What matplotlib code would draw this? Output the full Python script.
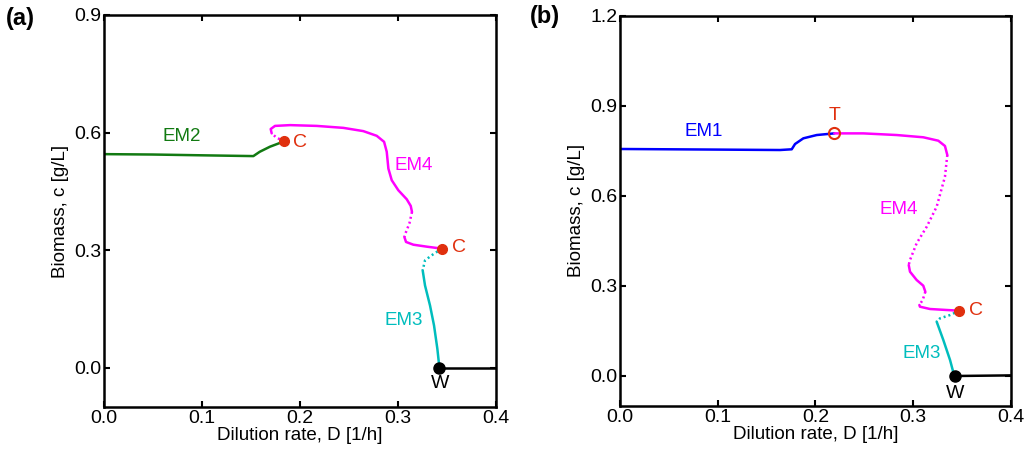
import matplotlib
matplotlib.use("Agg")
import matplotlib.pyplot as plt

plt.rcParams['font.family'] = ['Liberation Sans', 'DejaVu Sans']

# ---------------- Panel (a) data ----------------
a_em2_x = [0.0, 0.05, 0.10, 0.1525, 0.159, 0.1695, 0.178, 0.1841]
a_em2_y = [0.545, 0.544, 0.542, 0.540, 0.551, 0.564, 0.572, 0.578]

a_em4_dot1_x = [0.1841, 0.1763, 0.1712]
a_em4_dot1_y = [0.578, 0.5866, 0.598]
a_em4_sol1_x = [0.1712, 0.1702, 0.1746, 0.190, 0.2172, 0.2444, 0.2648, 0.2785, 0.286,
                0.2887, 0.2904, 0.2938, 0.3005, 0.3091, 0.3132, 0.3145]
a_em4_sol1_y = [0.598, 0.609, 0.617, 0.619, 0.617, 0.612, 0.6037, 0.5917, 0.5764,
                0.551, 0.508, 0.4785, 0.453, 0.430, 0.413, 0.3976]
a_em4_dot2_x = [0.3145, 0.3118, 0.3077, 0.3067]
a_em4_dot2_y = [0.3976, 0.368, 0.342, 0.3337]
a_em4_sol2_x = [0.3067, 0.3084, 0.3159, 0.3296, 0.3449]
a_em4_sol2_y = [0.3337, 0.321, 0.314, 0.309, 0.304]

a_em3_dot_x = [0.3449, 0.3346, 0.3278, 0.3254]
a_em3_dot_y = [0.304, 0.287, 0.274, 0.2486]
a_em3_sol_x = [0.3254, 0.3278, 0.3329, 0.337, 0.3404, 0.3425]
a_em3_sol_y = [0.2486, 0.210, 0.159, 0.108, 0.0485, 0.0]

a_wash_x = [0.3425, 0.4]
a_wash_y = [0.0, 0.0]

a_c_x = [0.1841, 0.3449]
a_c_y = [0.578, 0.304]
a_w_x = [0.3425]
a_w_y = [0.0]

# ---------------- Panel (b) data ----------------
b_em1_x = [0.0, 0.05, 0.10, 0.1638, 0.1758, 0.1792, 0.1877, 0.2014, 0.2194]
b_em1_y = [0.756, 0.755, 0.754, 0.7526, 0.755, 0.7726, 0.7915, 0.8025, 0.808]

b_em4_sol1_x = [0.2194, 0.2491, 0.2833, 0.3105, 0.3259, 0.3327, 0.3351]
b_em4_sol1_y = [0.808, 0.808, 0.8025, 0.795, 0.7836, 0.766, 0.736]
b_em4_dot1_x = [0.3351, 0.3327, 0.3242, 0.314, 0.3037, 0.2969, 0.2956]
b_em4_dot1_y = [0.736, 0.6637, 0.5638, 0.497, 0.442, 0.3863, 0.3696]
b_em4_sol2_x = [0.2956, 0.2969, 0.3037, 0.3105, 0.3126]
b_em4_sol2_y = [0.3696, 0.3473, 0.3197, 0.3007, 0.2807]
b_em4_dot2_x = [0.3126, 0.3099, 0.3065]
b_em4_dot2_y = [0.2807, 0.253, 0.2364]
b_em4_sol3_x = [0.3065, 0.3071, 0.3174, 0.3345, 0.3474]
b_em4_sol3_y = [0.2364, 0.2308, 0.2231, 0.2198, 0.2175]

b_em3_dot_x = [0.3474, 0.3379, 0.3276, 0.3242]
b_em3_dot_y = [0.2175, 0.203, 0.192, 0.181]
b_em3_sol_x = [0.3242, 0.331, 0.3379, 0.342, 0.343]
b_em3_sol_y = [0.181, 0.120, 0.0533, 0.0033, 0.0]

b_wash_x = [0.343, 0.4]
b_wash_y = [0.0, 0.002]

b_t_x = [0.2194]
b_t_y = [0.808]
b_c_x = [0.3474]
b_c_y = [0.2175]
b_w_x = [0.343]
b_w_y = [0.0]

x_ticks = [0.0, 0.1, 0.2, 0.3, 0.4]
a_y_ticks = [0.0, 0.3, 0.6, 0.9]
b_y_ticks = [0.0, 0.3, 0.6, 0.9, 1.2]

GREEN = '#127a12'
MAGENTA = '#ff00ff'
CYAN = '#00bdbd'
BLUE = '#0000ff'
RED = '#e0300e'
LW = 1.8
DOT = (0, (0.8, 1.2))
TICK_FS = 14
LABEL_FS = 13.5
ANN_FS = 13.5

fig = plt.figure(figsize=(10.24, 4.53), dpi=100)
axa = fig.add_axes([0.1016, 0.1015, 0.3825, 0.8655])
axb = fig.add_axes([0.6055, 0.1037, 0.3815, 0.8617])


def line(ax, x, y, color, dotted=False):
    kw = dict(color=color, lw=LW, solid_capstyle='round', solid_joinstyle='round')
    if dotted:
        kw['ls'] = DOT
    ax.plot(x, y, **kw)


def style(ax, yticks, ylim):
    ax.set_xlim(0.0, 0.4)
    ax.set_ylim(*ylim)
    ax.set_xticks(x_ticks)
    ax.set_xticklabels([f"{t:.1f}" for t in x_ticks])
    ax.set_yticks(yticks)
    ax.set_yticklabels([f"{t:.1f}" for t in yticks])
    ax.tick_params(direction='in', top=True, right=True, length=4, width=1.5,
                   labelsize=TICK_FS, pad=2)
    for s in ax.spines.values():
        s.set_linewidth(1.8)
    ax.set_xlabel("Dilution rate, D [1/h]", fontsize=LABEL_FS, labelpad=0)
    ax.set_ylabel("Biomass, c [g/L]", fontsize=LABEL_FS, labelpad=4)


# Panel (a)
line(axa, a_em2_x, a_em2_y, GREEN)
line(axa, a_em4_dot1_x, a_em4_dot1_y, MAGENTA, True)
line(axa, a_em4_sol1_x, a_em4_sol1_y, MAGENTA)
line(axa, a_em4_dot2_x, a_em4_dot2_y, MAGENTA, True)
line(axa, a_em4_sol2_x, a_em4_sol2_y, MAGENTA)
line(axa, a_em3_dot_x, a_em3_dot_y, CYAN, True)
line(axa, a_em3_sol_x, a_em3_sol_y, CYAN)
line(axa, a_wash_x, a_wash_y, 'black')
axa.plot(a_c_x, a_c_y, 'o', color=RED, ms=7, zorder=5)
axa.plot(a_w_x, a_w_y, 'o', color='black', ms=8, zorder=5)
axa.text(0.0793, 0.591, "EM2", color=GREEN, fontsize=ANN_FS, ha='center', va='center')
axa.text(0.3160, 0.517, "EM4", color=MAGENTA, fontsize=ANN_FS, ha='center', va='center')
axa.text(0.3057, 0.121, "EM3", color=CYAN, fontsize=ANN_FS, ha='center', va='center')
axa.text(0.2000, 0.574, "C", color=RED, fontsize=14, ha='center', va='center')
axa.text(0.3625, 0.308, "C", color=RED, fontsize=14, ha='center', va='center')
axa.text(0.3430, -0.041, "W", color='black', fontsize=14, ha='center', va='center')
style(axa, a_y_ticks, (-0.1, 0.9))

# Panel (b)
line(axb, b_em1_x, b_em1_y, BLUE)
line(axb, b_em4_sol1_x, b_em4_sol1_y, MAGENTA)
line(axb, b_em4_dot1_x, b_em4_dot1_y, MAGENTA, True)
line(axb, b_em4_sol2_x, b_em4_sol2_y, MAGENTA)
line(axb, b_em4_dot2_x, b_em4_dot2_y, MAGENTA, True)
line(axb, b_em4_sol3_x, b_em4_sol3_y, MAGENTA)
line(axb, b_em3_dot_x, b_em3_dot_y, CYAN, True)
line(axb, b_em3_sol_x, b_em3_sol_y, CYAN)
line(axb, b_wash_x, b_wash_y, 'black')
axb.plot(b_t_x, b_t_y, 'o', mfc='none', mec=RED, mew=1.5, ms=8, zorder=5)
axb.plot(b_c_x, b_c_y, 'o', color=RED, ms=7, zorder=5)
axb.plot(b_w_x, b_w_y, 'o', color='black', ms=8, zorder=5)
axb.text(0.0853, 0.8135, "EM1", color=BLUE, fontsize=ANN_FS, ha='center', va='center')
axb.text(0.2850, 0.553, "EM4", color=MAGENTA, fontsize=ANN_FS, ha='center', va='center')
axb.text(0.3089, 0.0755, "EM3", color=CYAN, fontsize=ANN_FS, ha='center', va='center')
axb.text(0.2194, 0.869, "T", color=RED, fontsize=14, ha='center', va='center')
axb.text(0.3645, 0.2175, "C", color=RED, fontsize=14, ha='center', va='center')
axb.text(0.3430, -0.0576, "W", color='black', fontsize=14, ha='center', va='center')
style(axb, b_y_ticks, (-0.1, 1.2))

fig.text(20 / 1024, 1 - 18 / 453, "(a)", fontsize=17, fontweight='bold', ha='center', va='center')
fig.text(545 / 1024, 1 - 17 / 453, "(b)", fontsize=17, fontweight='bold', ha='center', va='center')

fig.savefig("out.png", dpi=100)
